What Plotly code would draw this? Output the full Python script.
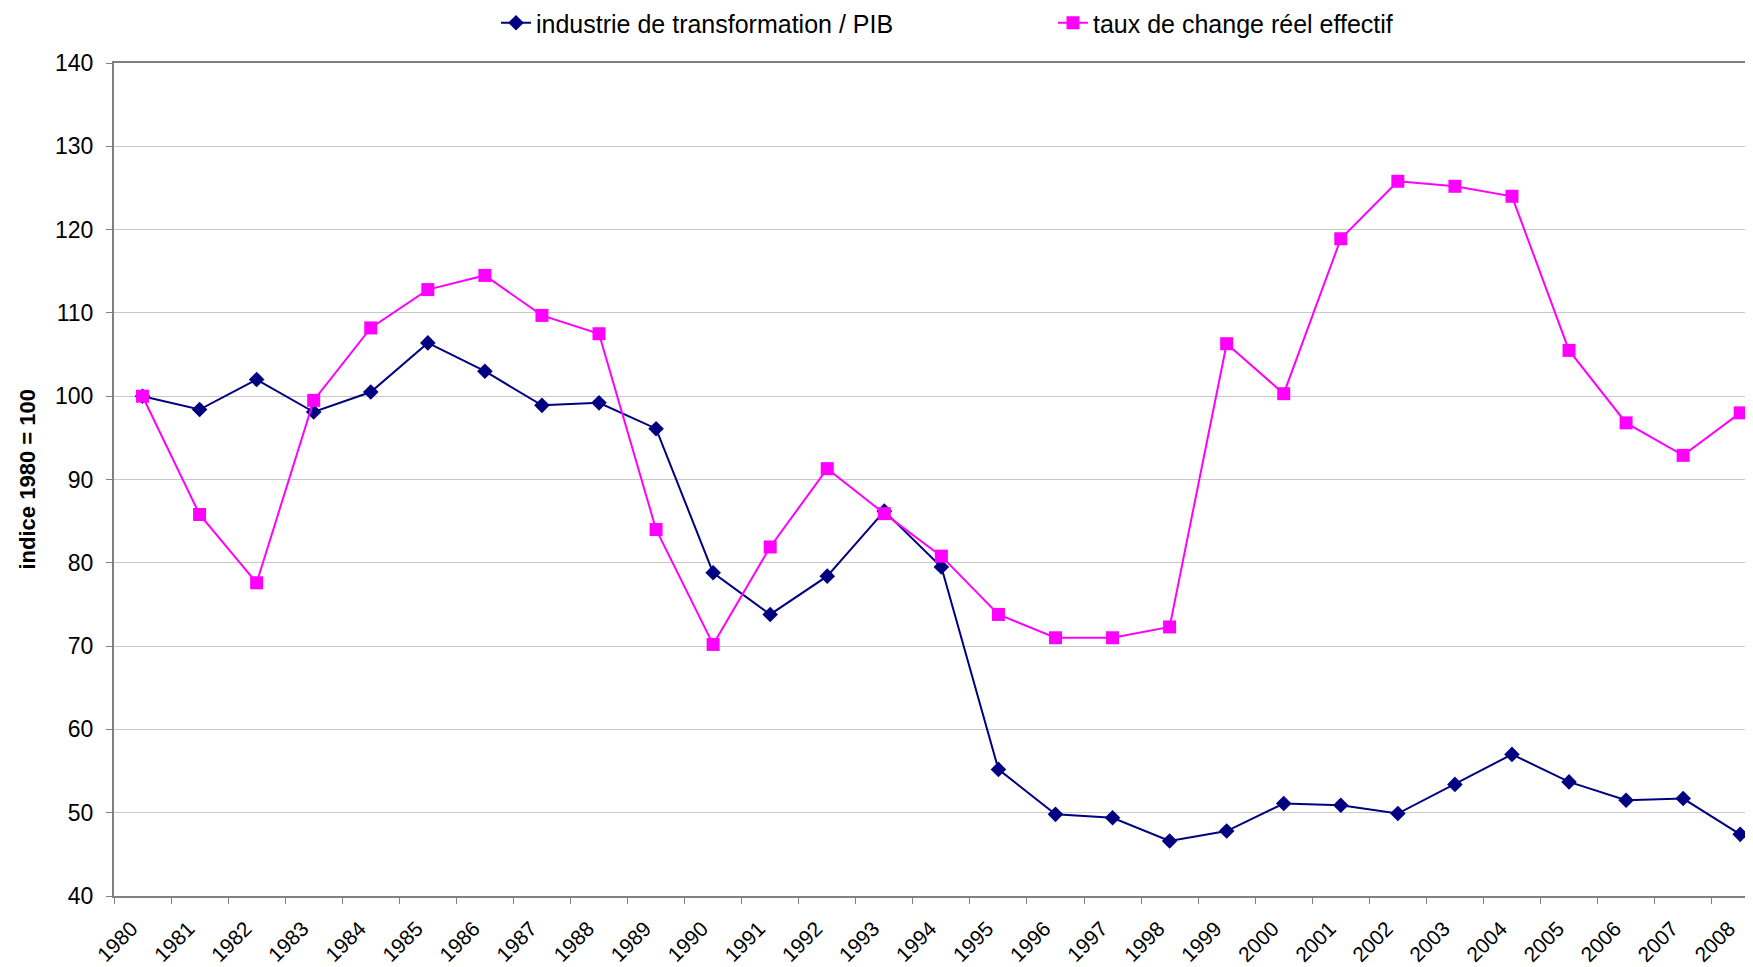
import plotly.graph_objects as go

years = [str(y) for y in range(1980, 2009)]
industrie = [100.0, 98.4, 102.0, 98.1, 100.5, 106.4, 103.0, 98.9, 99.2, 96.1,
             78.8, 73.8, 78.4, 86.2, 79.5, 55.2, 49.8, 49.4, 46.6, 47.8,
             51.1, 50.9, 49.9, 53.4, 57.0, 53.7, 51.5, 51.7, 47.4]
taux_change = [100.0, 85.8, 77.6, 99.5, 108.2, 112.8, 114.5, 109.7, 107.5, 84.0,
               70.2, 81.9, 91.3, 85.9, 80.8, 73.8, 71.0, 71.0, 72.3, 106.3,
               100.3, 118.9, 125.8, 125.2, 124.0, 105.5, 96.8, 92.9, 98.0]
y_ticks = list(range(40, 141, 10))

FONT = "Liberation Sans, Arial, sans-serif"

# page body has an 8px default margin: size the figure so it fits the window
OFF = 8
SW, SH = 1753, 967
W, H = SW - OFF, SH - OFF
# target screen positions of the plot area
S_LEFT, S_TOP, S_BOTTOM = 114, 63, 896
L = S_LEFT - OFF
T = S_TOP - OFF
B = SH - S_BOTTOM
R = 0
PW = W - L - R
PH = H - T - B
cat_w = 57.06
x_end = -0.5 + PW / cat_w


def sx(px):
    """screen x pixel -> paper x"""
    return (px - OFF - L) / PW


def sy(py):
    """screen y pixel -> paper y"""
    return 1 + (T - (py - OFF)) / PH


fig = go.Figure()
fig.add_trace(go.Scatter(
    x=years, y=industrie, mode="lines+markers",
    name="industrie de transformation / PIB",
    line=dict(color="#000080", width=2),
    marker=dict(symbol="diamond", size=12, color="#000080"),
    legend="legend",
))
fig.add_trace(go.Scatter(
    x=years, y=taux_change, mode="lines+markers",
    name="taux de change réel effectif",
    line=dict(color="#FF00FF", width=2),
    marker=dict(symbol="square", size=13, color="#FF00FF"),
    legend="legend2",
))

leg_common = dict(orientation="h", yanchor="middle", xanchor="left",
                  font=dict(size=25, family=FONT, color="#000000"),
                  bgcolor="rgba(0,0,0,0)", borderwidth=0)

fig.update_layout(
    width=W, height=H,
    margin=dict(l=L, r=R, t=T, b=B, autoexpand=False),
    paper_bgcolor="white", plot_bgcolor="white",
    font=dict(family=FONT, size=22, color="#000000"),
    showlegend=True,
    legend=dict(x=sx(496), y=sy(23), **leg_common),
    legend2=dict(x=sx(1053), y=sy(23), **leg_common),
    xaxis=dict(
        type="category", range=[-0.5, x_end], tickson="boundaries",
        tickangle=-45, ticks="outside", ticklen=6, tickcolor="#808080",
        showline=True, linecolor="#808080", linewidth=2, mirror=True,
        showgrid=False, tickfont=dict(size=21), automargin=False,
        ticklabelstandoff=10, ticklabelshift=-11,
    ),
    yaxis=dict(
        range=[40, 140], tickvals=y_ticks, ticks="outside", ticklen=6,
        tickcolor="#808080", showline=True, linecolor="#808080", linewidth=2,
        showgrid=True, gridcolor="#C8C8C8", gridwidth=1, zeroline=False,
        tickfont=dict(size=23), automargin=False, ticklabelstandoff=8,
    ),
    annotations=[dict(
        text="<b>indice 1980 = 100</b>", textangle=-90,
        xref="paper", yref="paper", x=sx(27), y=0.5,
        xanchor="center", yanchor="middle", showarrow=False,
        font=dict(size=22, family=FONT, color="#000000"),
    )],
)

fig.write_html("out.html")
